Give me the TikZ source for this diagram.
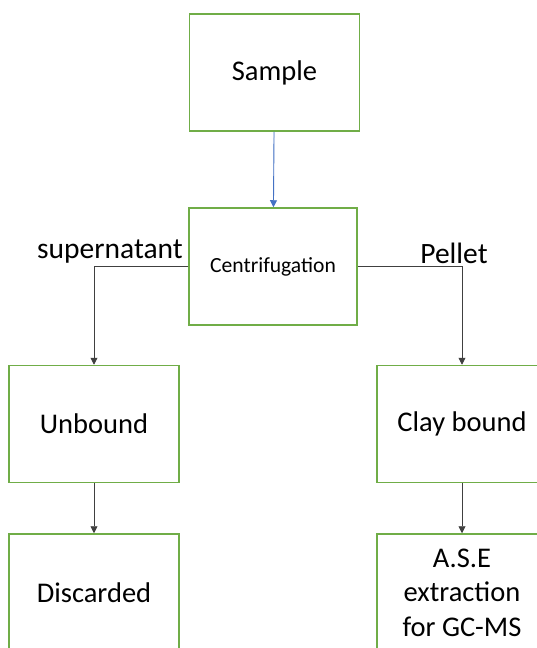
\documentclass[tikz,border=0pt]{standalone}
\usepackage{fontspec}
\setmainfont{Carlito}
\usepackage{tikz}
\usetikzlibrary{arrows.meta}

\definecolor{boxgreen}{RGB}{112,173,71}
\definecolor{arrowblue}{RGB}{68,114,196}

\begin{document}
\begin{tikzpicture}[x=1pt,y=-1pt,
        stagebox/.style={draw=boxgreen, line width=1.5pt, rectangle, minimum width=170pt, minimum height=117pt, align=center, font=\fontsize{28.5}{34.5}\selectfont},
        flow/.style={draw=black!75, line width=0.9pt, -{Triangle[length=7pt,width=7pt]}},
        branch/.style={font=\fontsize{29.5}{34}\selectfont}]
        \useasboundingbox (0,0) rectangle (537,648);

        % Boxes
        \node[stagebox] (sample) at (274.5,72.5) {Sample};
        \node[stagebox, minimum width=168pt, font=\fontsize{21.6}{26}\selectfont] (centri) at (273,266.5) {Centrifugation};
        \node[stagebox] (unbound) at (94,424) {Unbound};
        \node[stagebox] (claybound) at (462,424) {Clay bound};
        \node[stagebox] (discarded) at (94,592.5) {Discarded};
        \node[stagebox] (ase) at (462,592.5) {A.S.E\\extraction\\for GC-MS};

        % Branch labels
        \node[branch] (super) at (110,252) {supernatant};
        \node[branch] (pellet) at (454,253) {Pellet};

        % Connectors
        \draw[flow, draw=arrowblue, fill=arrowblue] (sample) -- (centri);
        \draw[flow] (centri.west) -| (unbound.north);
        \draw[flow] (centri.east) -| (claybound.north);
        \draw[flow] (unbound) -- (discarded);
        \draw[flow] (claybound) -- (ase);
\end{tikzpicture}
\end{document}
